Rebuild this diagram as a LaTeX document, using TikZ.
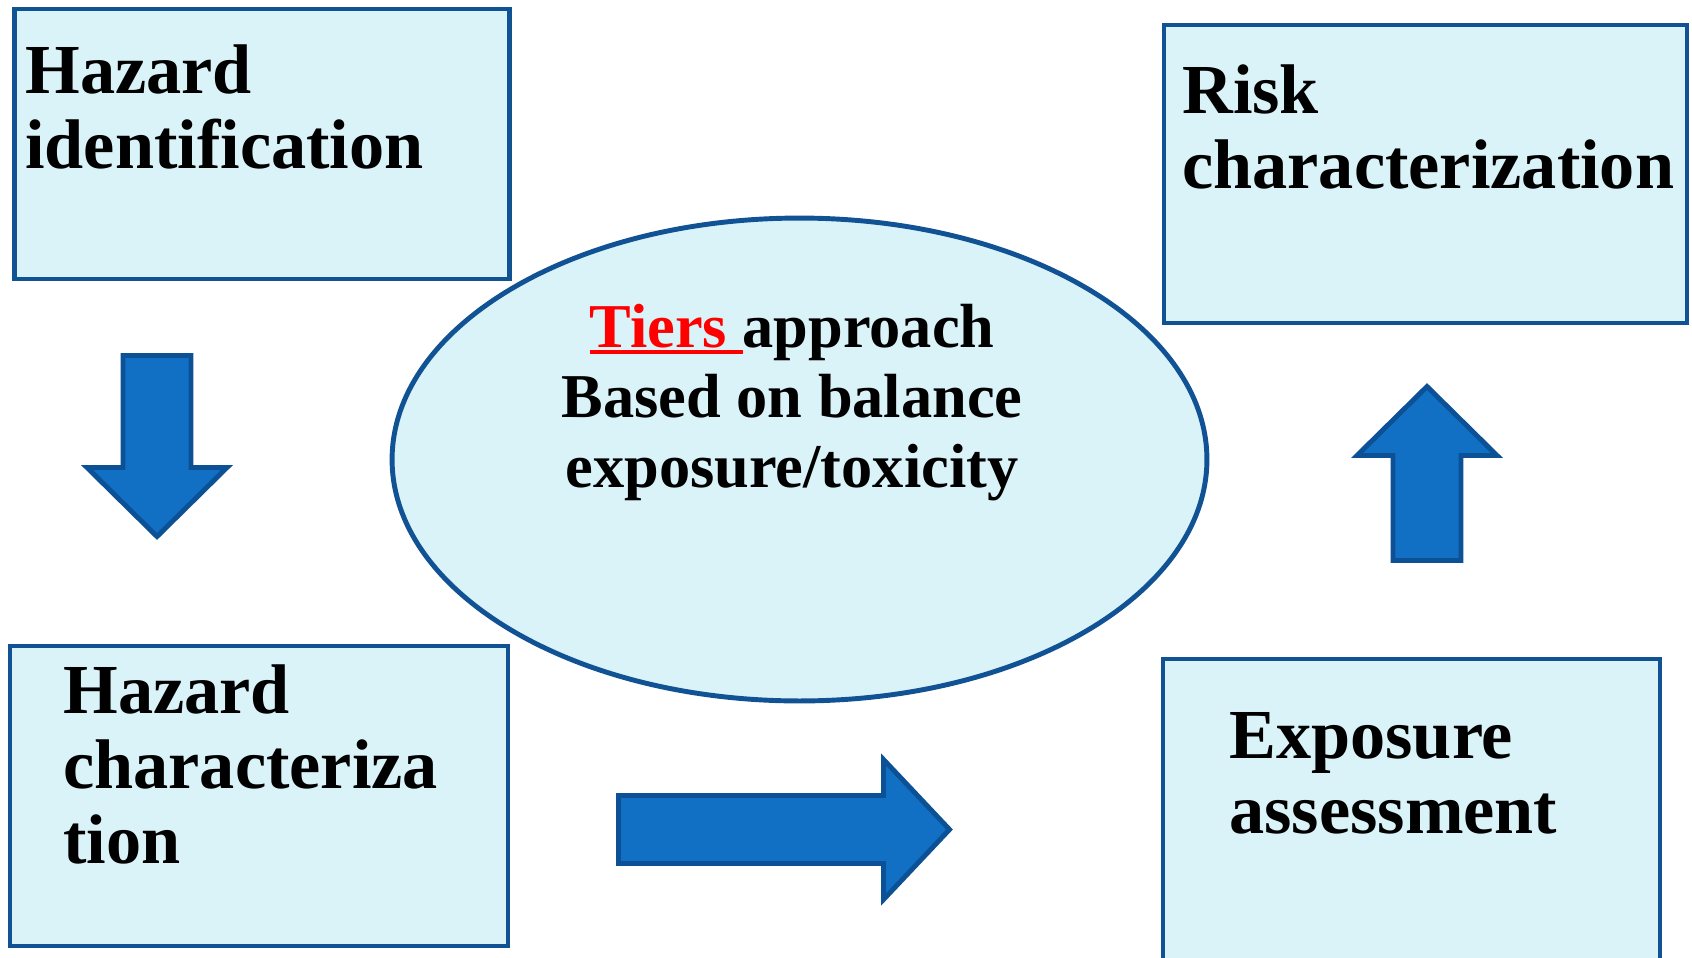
\documentclass[tikz,border=0pt]{standalone}
\usepackage{fontspec}
\setmainfont{Liberation Serif}
\usetikzlibrary{shapes.geometric}

\definecolor{boxfill}{RGB}{218,243,248}
\definecolor{boxline}{RGB}{16,82,148}
\definecolor{arrowfill}{RGB}{17,112,196}
\definecolor{arrowline}{RGB}{12,80,150}

% thick underline, takes the current colour
\newcommand{\redul}[1]{\vtop{\hbox{#1}\kern1.2pt\hrule height 2.6pt}}

% block arrow: tail centre, angle, shaft length, tip length
\newcommand{\blockarrow}[4]{%
  \begin{scope}[shift={#1}, rotate=#2]
 \draw [bigarrow] (0,-34) -- (#3,-34) -- (#3,-70) -- (#4,0) -- (#3,70) -- (#3,34) -- (0,34) -- cycle;
\end{scope}}

\begin{document}
\begin{tikzpicture}[x=0.02cm, y=-0.02cm,
  stage/.style={rectangle, draw=boxline, fill=boxfill, line width=2.7pt, inner sep=0pt},
  stagetext/.style={anchor=base west, align=left, inner sep=0pt, font=\fontsize{40}{42.68}\selectfont\bfseries},
  tierellipse/.style={ellipse, draw=boxline, fill=boxfill, line width=2.8pt, inner sep=0pt},
  bigarrow/.style={draw=arrowline, fill=arrowfill, line width=2.8pt}]

\useasboundingbox (0,0) rectangle (1692,957);

%\draw[step=100,gray,very thin] (0,0) grid (1692,957);

\node[stage, minimum width=9.9cm, minimum height=5.4cm] (hazid) at (262,144) {};
\node[stage, minimum width=10.46cm, minimum height=5.96cm] (riskchar) at (1425.5,174) {};
\node[stage, minimum width=9.96cm, minimum height=6cm] (hazchar) at (259,796) {};
\node[stage, minimum width=9.94cm, minimum height=6.4cm] (expo) at (1411.5,819) {};

% base anchor sits on the last line
\node[stagetext] (hazid-t) at (25,168) {Hazard\\identification};
\node[stagetext] (riskchar-t) at (1182,188) {Risk\\characterization};
\node[stagetext] (hazchar-t) at (63,863) {Hazard\\characteriza\\tion};
\node[stagetext] (expo-t) at (1229,833) {Exposure\\assessment};

\node[tierellipse, minimum width=16.3cm, minimum height=9.66cm] (tiers) at (799.5,459.5) {};
\node[anchor=base, align=center, inner sep=0pt, font=\fontsize{35.5}{39.8}\selectfont\bfseries] (tiers-t) at (792,487)
  {{\color{red}\redul{Tiers }}approach\\Based on balance\\exposure/toxicity};

\blockarrow{(157,355.5)}{-90}{112}{181}
\blockarrow{(1427,560.5)}{90}{105}{174}
\blockarrow{(618.5,829.5)}{0}{265}{331}

\end{tikzpicture}
\end{document}
